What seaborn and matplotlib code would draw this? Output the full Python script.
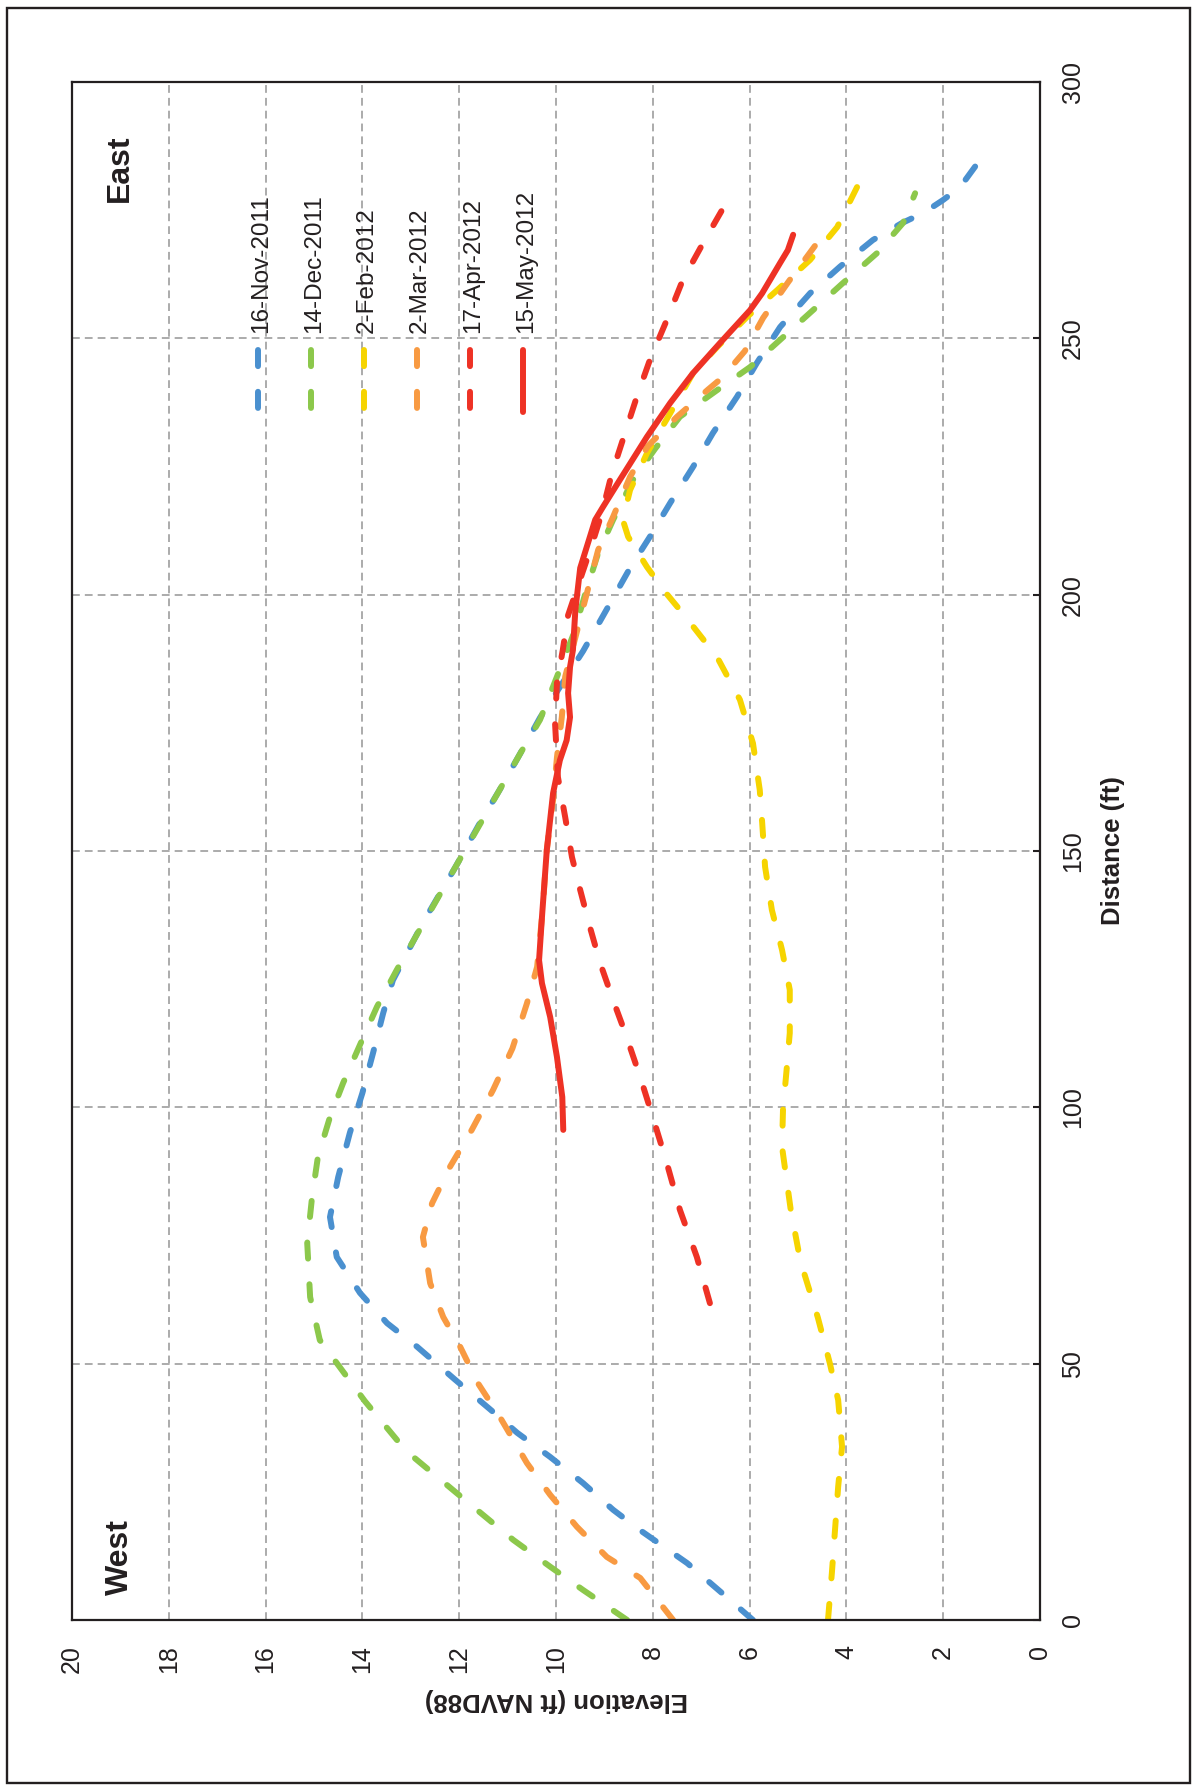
import matplotlib
matplotlib.use("Agg")
import matplotlib.pyplot as plt
from matplotlib.patches import Rectangle
import numpy as np
import pandas as pd
import seaborn as sns

# survey dates and their colours
surveys = ["16-Nov-2011", "14-Dec-2011", "2-Feb-2012", "2-Mar-2012", "17-Apr-2012", "15-May-2012"]
colors = ["#4A90CF", "#8CC84B", "#F6D400", "#F89A42", "#EE3225", "#EE3225"]

# beach profiles: distance (ft) and elevation (ft NAVD88)
nov_dist = [0, 5.5, 11.1, 17.7, 21.5, 26.7, 31.8, 36.5, 41, 47, 53.3, 57.9, 63.8, 70.8, 78.6, 86.4, 95,
            102.8, 110.6, 118.4, 124.8, 136, 147, 155, 162, 169, 176, 183, 189, 196, 205.2, 211.3, 217.9,
            224.9, 231.5, 238.6, 245.2, 252.2, 258.8, 264, 269.2, 272.5, 274.5, 277, 279.5, 284.8]
nov_elev = [5.93, 6.6, 7.29, 8.29, 8.82, 9.44, 10.12, 10.8, 11.35, 12.1, 12.87, 13.49, 14.05, 14.53, 14.67,
            14.5, 14.26, 14.0, 13.78, 13.57, 13.37, 12.75, 12.07, 11.6, 11.16, 10.74, 10.33, 9.85, 9.44,
            9.02, 8.47, 8.06, 7.64, 7.17, 6.76, 6.26, 5.85, 5.37, 4.75, 4.13, 3.45, 2.85, 2.4, 2.0, 1.65, 1.24]

dec_dist = [0, 5.85, 10.4, 15.6, 24.9, 33, 42.7, 54.6, 63, 73.5, 82.5, 90.3, 98.1, 104.7, 112.2, 119.6,
            126.8, 147, 162, 169, 175.6, 184, 192, 200, 208.1, 214.6, 222.4, 228.5, 234.7, 239.9, 244.4,
            249.7, 255.5, 260.8, 266.6, 272.5, 278.3]
dec_elev = [8.53, 9.44, 10.12, 10.88, 12.07, 13.1, 13.95, 14.88, 15.08, 15.14, 15.04, 14.92, 14.67, 14.4,
            14.05, 13.7, 13.29, 12.07, 11.16, 10.74, 10.33, 9.98, 9.65, 9.4, 9.13, 8.82, 8.41, 7.95, 7.44,
            6.67, 5.99, 5.37, 4.69, 4.07, 3.37, 2.83, 2.58]

feb_dist = [0, 9.2, 26, 33.8, 42.9, 50, 59, 70, 80, 92.3, 99.5, 107.9, 114.5, 122.9, 130.7, 138.5, 146.9,
            155.5, 161.9, 171, 179.5, 187.8, 196, 200, 205.4, 211.3, 214.6, 220.4, 227.6, 235.4, 243.2,
            248.3, 254.2, 259.4, 265.3, 271.7, 279.5]
feb_elev = [4.38, 4.30, 4.17, 4.09, 4.17, 4.34, 4.59, 4.95, 5.15, 5.33, 5.31, 5.23, 5.17, 5.17, 5.33, 5.54,
            5.68, 5.74, 5.79, 5.93, 6.2, 6.67, 7.35, 7.7, 8.12, 8.51, 8.62, 8.47, 8.12, 7.64, 7.17, 6.67,
            6.05, 5.43, 4.75, 4.19, 3.78]

mar_dist = [0, 8.2, 12.3, 18.2, 24.4, 30.6, 39.6, 46, 53.3, 59.1, 65.7, 74.7, 81.3, 88.4, 95.6, 103.4,
            111.5, 120.3, 127.4, 138, 150.2, 160, 168.3, 176.1, 184, 196, 208.7, 215.2, 223, 229, 234.7,
            240, 242.3, 247.5, 254, 261, 268.8]
mar_elev = [7.58, 8.26, 8.95, 9.57, 10.12, 10.6, 11.16, 11.6, 11.98, 12.33, 12.6, 12.75, 12.56, 12.19,
            11.74, 11.3, 10.9, 10.6, 10.39, 10.28, 10.19, 10.06, 9.98, 9.88, 9.81, 9.48, 9.13, 8.82, 8.47,
            8.1, 7.5, 6.86, 6.57, 6.1, 5.72, 5.2, 4.59]

apr_dist = [61.8, 70.8, 80, 89.1, 98.1, 105.9, 114.5, 120.9, 128.2, 135.2, 142.4, 148.8, 156.6, 164.4, 175,
            182.8, 189.2, 196, 203, 210, 216, 223.5, 230.2, 238.6, 245.8, 253.6, 261.4, 268.6, 276]
apr_elev = [6.82, 7.09, 7.44, 7.71, 8.0, 8.26, 8.57, 8.82, 9.09, 9.3, 9.5, 9.67, 9.81, 9.96, 10.02, 9.98,
            9.86, 9.75, 9.5, 9.25, 9.05, 8.85, 8.62, 8.33, 8.06, 7.71, 7.38, 6.96, 6.51]

may_dist = [95.6, 102, 109.8, 117.6, 124.2, 128.7, 137.1, 150.2, 161.3, 167.7, 171.6, 176.1, 180.8, 185.9,
            189.2, 197, 205.2, 214.6, 217.1, 222.4, 230.8, 237.4, 243.2, 249.1, 255.5, 258.8, 264.7, 267.2,
            270.2]
may_elev = [9.85, 9.87, 9.98, 10.12, 10.29, 10.35, 10.29, 10.19, 10.06, 9.92, 9.78, 9.71, 9.75, 9.71, 9.65,
            9.6, 9.5, 9.19, 9.03, 8.68, 8.12, 7.64, 7.17, 6.61, 5.99, 5.74, 5.37, 5.21, 5.1]

profiles = [(nov_dist, nov_elev), (dec_dist, dec_elev), (feb_dist, feb_elev),
            (mar_dist, mar_elev), (apr_dist, apr_elev), (may_dist, may_elev)]
df = pd.concat([pd.DataFrame({"survey": s, "distance": d, "elevation": e})
                for s, (d, e) in zip(surveys, profiles)], ignore_index=True)

sns.set_theme(style="white")
plt.rcParams["font.family"] = ["Liberation Sans", "DejaVu Sans"]
dark = "#231f20"

# the chart is printed turned a quarter turn, so elevation runs along x (reversed)
fig = plt.figure(figsize=(11.92, 17.86), dpi=100)
ax = fig.add_axes([72 / 1192, 1 - 1620 / 1786, 968 / 1192, 1538 / 1786])

lw = 4.3
dash = (2.7, 4.3)
sns.lineplot(data=df, x="elevation", y="distance", hue="survey", style="survey",
             hue_order=surveys, style_order=surveys,
             palette=dict(zip(surveys, colors)),
             dashes={s: ("" if s == "15-May-2012" else dash) for s in surveys},
             orient="y", errorbar=None, legend=False, lw=lw, ax=ax)
for line in ax.lines:
    line.set_dash_capstyle("round")
    line.set_solid_capstyle("round")
    line.set_solid_joinstyle("round")

ax.set_xlim(20, 0)
ax.set_ylim(0, 300)
ax.set_xticks(np.arange(0, 21, 2))
ax.set_yticks(np.arange(0, 301, 50))
ax.yaxis.tick_right()
ax.yaxis.set_label_position("right")
ax.tick_params(axis="both", direction="in", length=5, width=1.5, color=dark,
               labelsize=18, labelcolor=dark)
ax.tick_params(axis="x", labelrotation=90, pad=18)
ax.tick_params(axis="y", labelrotation=90, pad=15)
for lab in ax.get_yticklabels():
    lab.set_va("center")

ax.set_axisbelow(True)
ax.grid(True, color="#ababab", lw=1.4, linestyle=(0, (4, 2.6)))
for sp in ax.spines.values():
    sp.set_color(dark)
    sp.set_linewidth(1.6)

ax.set_xlabel("Elevation (ft NAVD88)", fontsize=18.5, fontweight="bold", rotation=180, color=dark)
ax.xaxis.set_label_coords(0.5, -0.052)
ax.xaxis.label.set_va("center")
ax.set_ylabel("Distance (ft)", fontsize=18.5, fontweight="bold", rotation=90, color=dark)
ax.yaxis.set_label_coords(1.0754, 0.5)
ax.yaxis.label.set_va("center")
ax.yaxis.label.set_ha("center")

ax.text(0.0496, 0.944, "East", transform=ax.transAxes, rotation=90, fontsize=23,
        fontweight="bold", ha="center", va="center", color=dark)
ax.text(0.0496, 0.041, "West", transform=ax.transAxes, rotation=90, fontsize=23,
        fontweight="bold", ha="center", va="center", color=dark)

# legend, turned like the rest of the chart
leg_x0, leg_dx = 0.1918, 0.0548
for i, (s, c) in enumerate(zip(surveys, colors)):
    xs = leg_x0 + i * leg_dx
    ls = "-" if s == "15-May-2012" else (0, dash)
    ax.plot([xs, xs], [0.8258, 0.7854], transform=ax.transAxes, color=c, lw=lw, linestyle=ls,
            dash_capstyle="round", solid_capstyle="round", clip_on=False)
    ax.text(xs + 0.0034, 0.8368, s, transform=ax.transAxes, rotation=90, ha="center",
            va="bottom", fontsize=17.5, color=dark)

# outer frame
fig.patches.append(Rectangle((7 / 1192, 3 / 1786), 1183 / 1192, 1775 / 1786,
                             transform=fig.transFigure, fill=False, lw=1.7, edgecolor=dark))

fig.savefig("out.png", dpi=100)
